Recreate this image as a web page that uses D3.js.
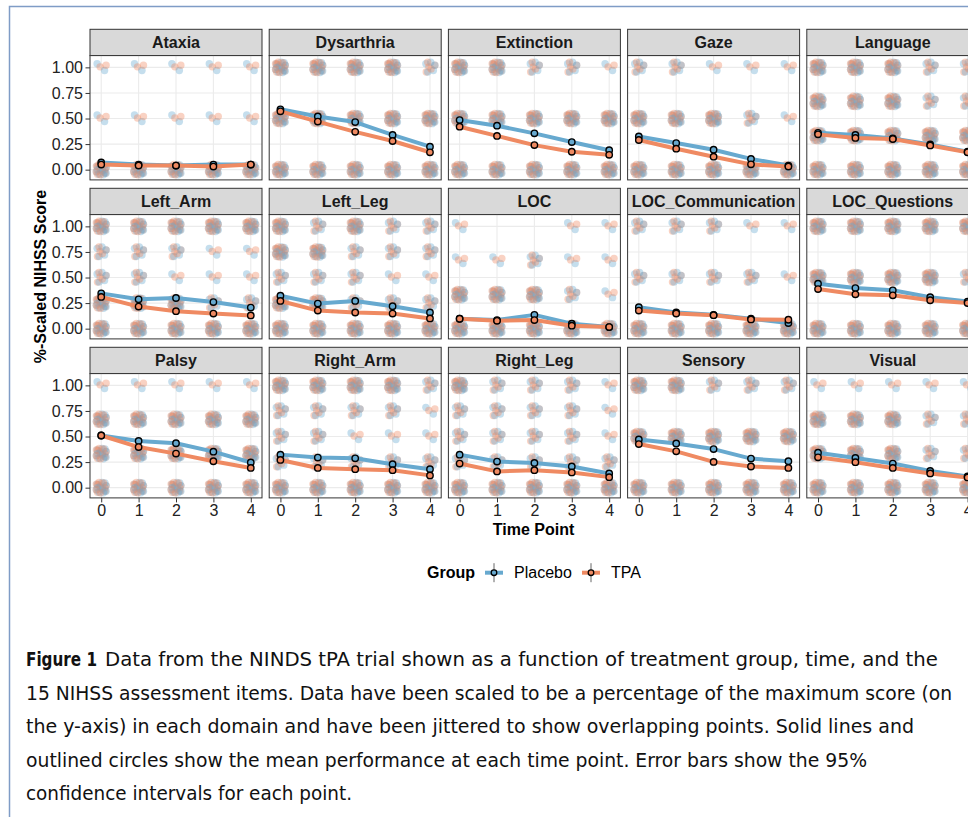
<!DOCTYPE html>
<html>
<head>
<meta charset="utf-8">
<script src="https://cdn.jsdelivr.net/npm/d3@7"></script>
<style>
  body { margin: 0; background: #fff; }
  svg { display: block; font-family: "Liberation Sans", Arial, sans-serif; }
</style>
</head>
<body>
<div id="chart"></div>
<script>
// facet names, in panel order (3 rows x 5 columns)
const facets = ["Ataxia", "Dysarthria", "Extinction", "Gaze", "Language",
  "Left_Arm", "Left_Leg", "LOC", "LOC_Communication", "LOC_Questions",
  "Palsy", "Right_Arm", "Right_Leg", "Sensory", "Visual"];
const timePoints = [0, 1, 2, 3, 4];
const groups = ["Placebo", "TPA"];
const yTicks = [0, 0.25, 0.5, 0.75, 1];

// mean scaled score per time point
const placeboMeans = [
  [0.07, 0.05, 0.04, 0.05, 0.05],
  [0.59, 0.52, 0.465, 0.34, 0.225],
  [0.485, 0.43, 0.355, 0.27, 0.19],
  [0.325, 0.26, 0.195, 0.105, 0.04],
  [0.36, 0.34, 0.305, 0.247, 0.175],
  [0.345, 0.287, 0.30, 0.26, 0.206],
  [0.322, 0.245, 0.271, 0.22, 0.158],
  [0.097, 0.084, 0.135, 0.048, 0.016],
  [0.21, 0.158, 0.135, 0.097, 0.055],
  [0.44, 0.397, 0.375, 0.307, 0.265],
  [0.51, 0.456, 0.434, 0.352, 0.246],
  [0.323, 0.294, 0.287, 0.229, 0.181],
  [0.323, 0.255, 0.242, 0.207, 0.139],
  [0.471, 0.432, 0.377, 0.284, 0.258],
  [0.342, 0.29, 0.236, 0.164, 0.11]
];
const tpaMeans = [
  [0.05, 0.04, 0.04, 0.03, 0.05],
  [0.57, 0.47, 0.37, 0.28, 0.17],
  [0.42, 0.33, 0.24, 0.175, 0.145],
  [0.29, 0.205, 0.127, 0.052, 0.03],
  [0.345, 0.31, 0.30, 0.237, 0.17],
  [0.31, 0.216, 0.171, 0.148, 0.129],
  [0.271, 0.177, 0.158, 0.148, 0.10],
  [0.097, 0.077, 0.084, 0.029, 0.016],
  [0.177, 0.148, 0.132, 0.09, 0.087],
  [0.387, 0.336, 0.326, 0.278, 0.25],
  [0.51, 0.397, 0.333, 0.258, 0.193],
  [0.271, 0.193, 0.181, 0.171, 0.12],
  [0.236, 0.159, 0.171, 0.149, 0.103],
  [0.426, 0.355, 0.252, 0.207, 0.193],
  [0.297, 0.249, 0.193, 0.139, 0.10]
];
// half width of the 95% CI
const ciHalf = [0.02, 0.03, 0.03, 0.025, 0.03, 0.03, 0.03, 0.015, 0.02, 0.03, 0.02, 0.03, 0.03, 0.025, 0.025];

// possible scaled score levels of each item
const scoreLevels = [
  [0, 0.5, 1], [0, 0.5, 1], [0, 0.5, 1], [0, 0.5, 1], [0, 0.333, 0.667, 1],
  [0, 0.25, 0.5, 0.75, 1], [0, 0.25, 0.5, 0.75, 1], [0, 0.333, 0.667, 1], [0, 0.5, 1], [0, 0.5, 1],
  [0, 0.333, 0.667, 1], [0, 0.25, 0.5, 0.75, 1], [0, 0.25, 0.5, 0.75, 1], [0, 0.5, 1], [0, 0.333, 0.667, 1]
];
// how crowded each level is at each time point (0 none .. 3 dense)
const crowding = [
  [[3,3,3,3,3],[1,1,1,1,1],[1,1,1,1,1]],
  [[3,3,3,3,3],[3,3,3,3,3],[3,3,3,3,2]],
  [[3,3,3,3,3],[3,3,3,3,3],[3,3,2,2,1]],
  [[3,3,3,3,3],[3,3,3,2,1],[2,2,1,1,1]],
  [[3,3,3,3,3],[3,3,3,3,3],[3,3,3,2,2],[3,3,3,2,2]],
  [[3,3,3,3,3],[3,3,3,2,2],[2,2,1,1,1],[2,2,2,1,1],[3,3,3,3,3]],
  [[3,3,3,3,3],[3,3,2,2,2],[2,2,2,1,1],[3,3,2,2,2],[3,2,3,2,2]],
  [[3,3,3,3,3],[3,3,3,2,1],[1,1,2,1,1],[1,0,0,1,1]],
  [[3,3,3,3,3],[2,2,2,2,1],[2,2,2,1,1]],
  [[3,3,3,3,3],[3,3,3,3,2],[3,3,3,3,3]],
  [[3,3,3,3,3],[3,3,3,3,3],[3,3,3,3,3],[1,1,1,1,1]],
  [[3,3,3,3,3],[2,2,2,2,2],[2,2,1,1,1],[2,2,2,2,1],[3,3,3,3,2]],
  [[3,3,3,3,3],[2,2,2,2,2],[2,2,2,2,1],[2,2,2,2,1],[3,2,2,2,1]],
  [[3,3,3,3,3],[3,3,3,3,3],[3,3,2,2,2]],
  [[3,3,3,3,3],[3,3,3,2,2],[3,3,3,2,2],[1,1,1,1,1]]
];

const captionLines = [
  "Data from the NINDS tPA trial shown as a function of treatment group, time, and the",
  "15 NIHSS assessment items. Data have been scaled to be a percentage of the maximum score (on",
  "the y-axis) in each domain and have been jittered to show overlapping points. Solid lines and",
  "outlined circles show the mean performance at each time point. Error bars show the 95%",
  "confidence intervals for each point."
];

// fixed jitter layout used for the point clouds (in data units)
const jitterPattern = [[-0.11,0.035],[0.09,-0.03],[0.02,0.05],[-0.06,-0.045],[0.13,0.02],[0.03,-0.005],
  [-0.13,-0.02],[0.1,0.045],[-0.03,0.015],[0.06,-0.05],[-0.1,0.0],[0.13,-0.035]];
const dotsPerCrowding = [0, 2, 5, 12];

const colors = { Placebo: "#67a9cf", TPA: "#ef8a62" };

const width = 968, height = 817;
const colLeft = 90, colStep = 179.2, panelW = 172;
const rowTop = 29.3, rowStep = 159, stripH = 26.3, plotH = 124.3;

const svg = d3.select("#chart").append("svg")
  .attr("width", width)
  .attr("height", height);

svg.append("rect").attr("width", width).attr("height", height).attr("fill", "#fff");

// page frame
svg.append("path")
  .attr("d", "M9.5," + height + " V6.5 H" + width)
  .attr("fill", "none")
  .attr("stroke", "#7f9cc6")
  .attr("stroke-width", 1.5);

const x = d3.scaleLinear().domain([-0.3, 4.3]).range([0, panelW]);
const y = d3.scaleLinear().domain([-0.1, 1.115]).range([plotH, 0]);

const line = d3.line()
  .x(function (d, i) { return x(timePoints[i]); })
  .y(function (d) { return y(d); });

facets.forEach(function (name, k) {
  const col = k % 5, row = Math.floor(k / 5);
  const g = svg.append("g")
    .attr("transform", "translate(" + (colLeft + col * colStep) + "," + (rowTop + row * rowStep) + ")");

  // strip
  g.append("rect")
    .attr("x", 0).attr("y", 0)
    .attr("width", panelW).attr("height", stripH)
    .attr("fill", "#d9d9d9")
    .attr("stroke", "#333").attr("stroke-width", 1);
  g.append("text")
    .attr("x", panelW / 2).attr("y", stripH / 2 + 5.6)
    .attr("text-anchor", "middle")
    .attr("font-size", 16).attr("font-weight", "bold")
    .attr("fill", "#1a1a1a")
    .text(name);

  const p = g.append("g").attr("transform", "translate(0," + stripH + ")");

  p.append("rect")
    .attr("width", panelW).attr("height", plotH)
    .attr("fill", "#fff");

  // grid
  p.selectAll(".gy").data(yTicks).enter().append("line")
    .attr("x1", 0).attr("x2", panelW)
    .attr("y1", function (d) { return y(d); }).attr("y2", function (d) { return y(d); })
    .attr("stroke", "#ebebeb").attr("stroke-width", 1.1);
  p.selectAll(".gx").data(timePoints).enter().append("line")
    .attr("y1", 0).attr("y2", plotH)
    .attr("x1", function (d) { return x(d); }).attr("x2", function (d) { return x(d); })
    .attr("stroke", "#ebebeb").attr("stroke-width", 1.1);

  // jittered raw points
  const dots = [];
  scoreLevels[k].forEach(function (lv, li) {
    timePoints.forEach(function (t, ti) {
      const n = dotsPerCrowding[crowding[k][li][ti]];
      for (let j = 0; j < n; j++) {
        const a = jitterPattern[j];
        const b = jitterPattern[(j + 5) % jitterPattern.length];
        dots.push({ t: t + a[0], v: lv + a[1], g: "Placebo" });
        dots.push({ t: t - b[0], v: lv - b[1], g: "TPA" });
      }
    });
  });
  p.selectAll(".dot").data(dots).enter().append("circle")
    .attr("cx", function (d) { return x(d.t); })
    .attr("cy", function (d) { return y(d.v); })
    .attr("r", 3.7)
    .attr("fill", function (d) { return colors[d.g]; })
    .attr("fill-opacity", 0.38);

  const series = [
    { g: "Placebo", vals: placeboMeans[k] },
    { g: "TPA", vals: tpaMeans[k] }
  ];

  series.forEach(function (s) {
    p.append("path")
      .attr("d", line(s.vals))
      .attr("fill", "none")
      .attr("stroke", colors[s.g])
      .attr("stroke-width", 4)
      .attr("stroke-linejoin", "round");
  });
  series.forEach(function (s) {
    p.selectAll(null).data(s.vals).enter().append("line")
      .attr("x1", function (d, i) { return x(timePoints[i]); })
      .attr("x2", function (d, i) { return x(timePoints[i]); })
      .attr("y1", function (d) { return y(d - ciHalf[k]); })
      .attr("y2", function (d) { return y(d + ciHalf[k]); })
      .attr("stroke", "#000").attr("stroke-width", 1);
  });
  series.forEach(function (s) {
    p.selectAll(null).data(s.vals).enter().append("circle")
      .attr("cx", function (d, i) { return x(timePoints[i]); })
      .attr("cy", function (d) { return y(d); })
      .attr("r", 3.2)
      .attr("fill", colors[s.g])
      .attr("stroke", "#000").attr("stroke-width", 1.4);
  });

  // panel border
  p.append("rect")
    .attr("width", panelW).attr("height", plotH)
    .attr("fill", "none")
    .attr("stroke", "#333").attr("stroke-width", 1);

  if (col === 0) {
    const ay = p.append("g")
      .call(d3.axisLeft(y).tickValues(yTicks).tickFormat(d3.format(".2f")).tickSize(4.5).tickPadding(2.5));
    ay.select(".domain").remove();
    ay.selectAll(".tick line").attr("stroke", "#333");
    ay.selectAll(".tick text").attr("font-size", 16).attr("fill", "#222")
      .attr("font-family", "Liberation Sans, Arial, sans-serif");
  }
  if (row === 2) {
    const ax = p.append("g")
      .attr("transform", "translate(0," + plotH + ")")
      .call(d3.axisBottom(x).tickValues(timePoints).tickFormat(d3.format("d")).tickSize(4.5).tickPadding(2));
    ax.select(".domain").remove();
    ax.selectAll(".tick line").attr("stroke", "#333");
    ax.selectAll(".tick text").attr("font-size", 16).attr("fill", "#222")
      .attr("font-family", "Liberation Sans, Arial, sans-serif");
  }
});

// axis titles
svg.append("text")
  .attr("x", 533.5).attr("y", 535)
  .attr("text-anchor", "middle")
  .attr("font-size", 16).attr("font-weight", "bold")
  .text("Time Point");

svg.append("text")
  .attr("transform", "translate(46,276.5) rotate(-90)")
  .attr("text-anchor", "middle")
  .attr("font-size", 16).attr("font-weight", "bold")
  .text("%-Scaled NIHSS Score");

// legend
const legY = 572.7;
svg.append("text")
  .attr("x", 427).attr("y", legY + 5.7)
  .attr("font-size", 16).attr("font-weight", "bold")
  .text("Group");
const keyX = [485, 582];
const labelX = [514, 611];
groups.forEach(function (gName, i) {
  const lg = svg.append("g");
  lg.append("line")
    .attr("x1", keyX[i]).attr("x2", keyX[i] + 18)
    .attr("y1", legY).attr("y2", legY)
    .attr("stroke", colors[gName]).attr("stroke-width", 4);
  lg.append("line")
    .attr("x1", keyX[i] + 9).attr("x2", keyX[i] + 9)
    .attr("y1", legY - 9.5).attr("y2", legY + 9.5)
    .attr("stroke", "#666").attr("stroke-width", 1);
  lg.append("circle")
    .attr("cx", keyX[i] + 9).attr("cy", legY)
    .attr("r", 2.8)
    .attr("fill", colors[gName])
    .attr("stroke", "#000").attr("stroke-width", 1.3);
  lg.append("text")
    .attr("x", labelX[i]).attr("y", legY + 5.7)
    .attr("font-size", 16)
    .text(gName);
});

// caption
const capBase = [666, 699.5, 733, 766.5, 800];
const capEnd = [938, 952, 914, 867, 352];
captionLines.forEach(function (txt, i) {
  const t = svg.append("text")
    .attr("y", capBase[i])
    .attr("font-size", 19)
    .attr("font-family", "'DejaVu Sans Condensed', 'DejaVu Sans', sans-serif")
    .attr("fill", "#111");
  if (i === 0) {
    t.append("tspan").attr("x", 26).attr("font-weight", "bold")
      .attr("textLength", 71).attr("lengthAdjust", "spacingAndGlyphs")
      .text("Figure 1");
    t.append("tspan").attr("x", 105)
      .attr("textLength", capEnd[i] - 105).attr("lengthAdjust", "spacingAndGlyphs")
      .text(txt);
  } else {
    t.attr("x", 26)
      .attr("textLength", capEnd[i] - 26).attr("lengthAdjust", "spacingAndGlyphs")
      .text(txt);
  }
});
</script>
</body>
</html>
